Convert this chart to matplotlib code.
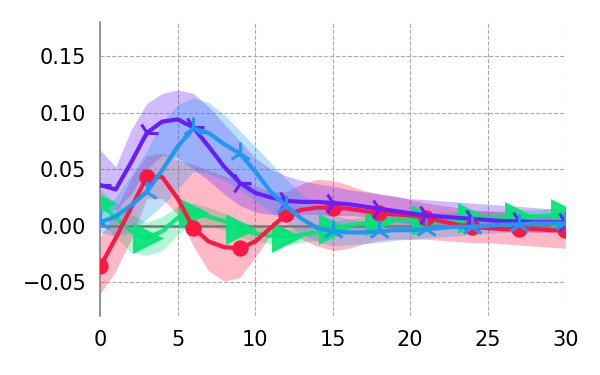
import numpy as np
import matplotlib
matplotlib.use("Agg")
import matplotlib.pyplot as plt

x = list(range(31))

red_mean = [-0.036, -0.011, 0.016, 0.043, 0.043, 0.024, -0.002, -0.014, -0.019, -0.020, -0.014,
            -0.002, 0.010, 0.014, 0.016, 0.016, 0.015, 0.013, 0.011, 0.010, 0.009, 0.007, 0.004,
            0.001, -0.001, -0.002, -0.003, -0.003, -0.003, -0.004, -0.004]
red_low = [-0.060, -0.040, -0.012, 0.024, 0.024, 0.010, -0.018, -0.040, -0.049, -0.046, -0.028,
           -0.008, -0.006, -0.012, -0.018, -0.022, -0.020, -0.016, -0.013, -0.012, -0.012, -0.012,
           -0.013, -0.014, -0.015, -0.015, -0.016, -0.017, -0.018, -0.019, -0.020]
red_high = [-0.010, 0.014, 0.042, 0.062, 0.064, 0.058, 0.054, 0.049, 0.044, 0.040, 0.035, 0.030,
            0.030, 0.037, 0.041, 0.040, 0.036, 0.031, 0.028, 0.026, 0.023, 0.020, 0.018, 0.016,
            0.014, 0.013, 0.012, 0.011, 0.010, 0.010, 0.010]

purple_mean = [0.036, 0.032, 0.056, 0.082, 0.092, 0.094, 0.087, 0.070, 0.052, 0.038, 0.029, 0.025,
               0.022, 0.021, 0.021, 0.020, 0.019, 0.017, 0.015, 0.013, 0.011, 0.009, 0.008, 0.007,
               0.006, 0.005, 0.004, 0.004, 0.003, 0.003, 0.003]
purple_low = [0.012, 0.014, 0.028, 0.050, 0.062, 0.060, 0.050, 0.040, 0.028, 0.018, 0.012, 0.010,
              0.010, 0.010, 0.010, 0.009, 0.009, 0.008, 0.006, 0.004, 0.002, 0.000, -0.001, -0.002,
              -0.003, -0.004, -0.005, -0.005, -0.006, -0.006, -0.006]
purple_high = [0.067, 0.052, 0.085, 0.108, 0.117, 0.120, 0.117, 0.105, 0.090, 0.075, 0.060, 0.050,
               0.044, 0.040, 0.037, 0.035, 0.032, 0.030, 0.028, 0.026, 0.024, 0.023, 0.022, 0.021,
               0.020, 0.019, 0.018, 0.017, 0.016, 0.015, 0.014]

blue_mean = [0.003, 0.008, 0.018, 0.030, 0.049, 0.070, 0.086, 0.082, 0.072, 0.064, 0.048, 0.030,
             0.017, 0.006, -0.002, -0.005, -0.006, -0.006, -0.005, -0.004, -0.004, -0.003, -0.002,
             -0.001, -0.001, 0.000, 0.001, 0.001, 0.002, 0.002, 0.002]
blue_low = [-0.006, -0.010, -0.006, 0.006, 0.018, 0.032, 0.048, 0.046, 0.040, 0.032, 0.022, 0.012,
            0.002, -0.008, -0.014, -0.018, -0.017, -0.016, -0.015, -0.013, -0.012, -0.011, -0.010,
            -0.009, -0.008, -0.007, -0.006, -0.005, -0.004, -0.004, -0.004]
blue_high = [0.012, 0.025, 0.045, 0.066, 0.092, 0.107, 0.113, 0.109, 0.098, 0.084, 0.070, 0.056,
             0.041, 0.028, 0.018, 0.010, 0.006, 0.004, 0.004, 0.004, 0.004, 0.004, 0.005, 0.005,
             0.005, 0.006, 0.006, 0.007, 0.007, 0.008, 0.008]

green_mean = [0.020, 0.007, -0.005, -0.011, -0.005, 0.007, 0.011, 0.008, 0.004, -0.003, -0.007,
              -0.009, -0.010, -0.008, -0.006, -0.003, 0.000, 0.002, 0.004, 0.005, 0.005, 0.005,
              0.006, 0.006, 0.007, 0.007, 0.007, 0.008, 0.008, 0.009, 0.010]
green_low = [0.004, -0.010, -0.024, -0.026, -0.022, -0.008, 0.002, -0.001, -0.004, -0.010, -0.014,
             -0.016, -0.017, -0.015, -0.013, -0.010, -0.006, -0.004, -0.002, -0.001, -0.001,
             -0.001, 0.000, 0.000, 0.001, 0.001, 0.001, 0.002, 0.002, 0.003, 0.004]
green_high = [0.032, 0.020, 0.010, 0.003, 0.008, 0.017, 0.020, 0.016, 0.011, 0.004, 0.000, -0.002,
              -0.003, -0.001, 0.001, 0.003, 0.006, 0.008, 0.010, 0.011, 0.011, 0.011, 0.012,
              0.012, 0.013, 0.013, 0.013, 0.014, 0.014, 0.015, 0.016]

x_ticks = [0, 5, 10, 15, 20, 25, 30]
y_ticks = [-0.05, 0.00, 0.05, 0.10, 0.15]

RED = "#ff1744"
PURPLE = "#651fff"
BLUE = "#2196f3"
GREEN = "#00e676"

fig = plt.figure(figsize=(6, 3.75), dpi=100)
ax = fig.add_axes([0.167, 0.157, 0.775, 0.784])

series = [
    (green_mean, green_low, green_high, GREEN, ">", 19, 2),
    (red_mean, red_low, red_high, RED, "o", 9.5, 3),
    (purple_mean, purple_low, purple_high, PURPLE, "4", 16, 4),
    (blue_mean, blue_low, blue_high, BLUE, "2", 16, 5),
]

for m, lo, hi, c, mk, ms, z in series:
    ax.fill_between(x, lo, hi, color=c, alpha=0.3, lw=0, zorder=1)

ax.axhline(0, color="#777777", lw=1.8, zorder=1.5)

for m, lo, hi, c, mk, ms, z in series:
    ax.plot(x, m, color=c, lw=3, marker=mk, markevery=3, markersize=ms,
            markeredgewidth=2.2, zorder=z, alpha=0.9 if mk == ">" else 1.0)

ax.set_xlim(0, 30)
ax.set_ylim(-0.08, 0.18)
ax.set_xticks(x_ticks)
ax.set_yticks(y_ticks)
ax.set_yticklabels(["\u22120.05", "0.00", "0.05", "0.10", "0.15"])
ax.tick_params(axis="both", length=0, labelsize=15, pad=10)
ax.grid(True, color="#aaaaaa", linestyle="--", lw=0.8)
ax.set_axisbelow(True)
for s in ["top", "right", "bottom"]:
    ax.spines[s].set_visible(False)
ax.spines["left"].set_color("#888888")
ax.spines["left"].set_linewidth(1.2)

fig.savefig("out.png", dpi=100)
